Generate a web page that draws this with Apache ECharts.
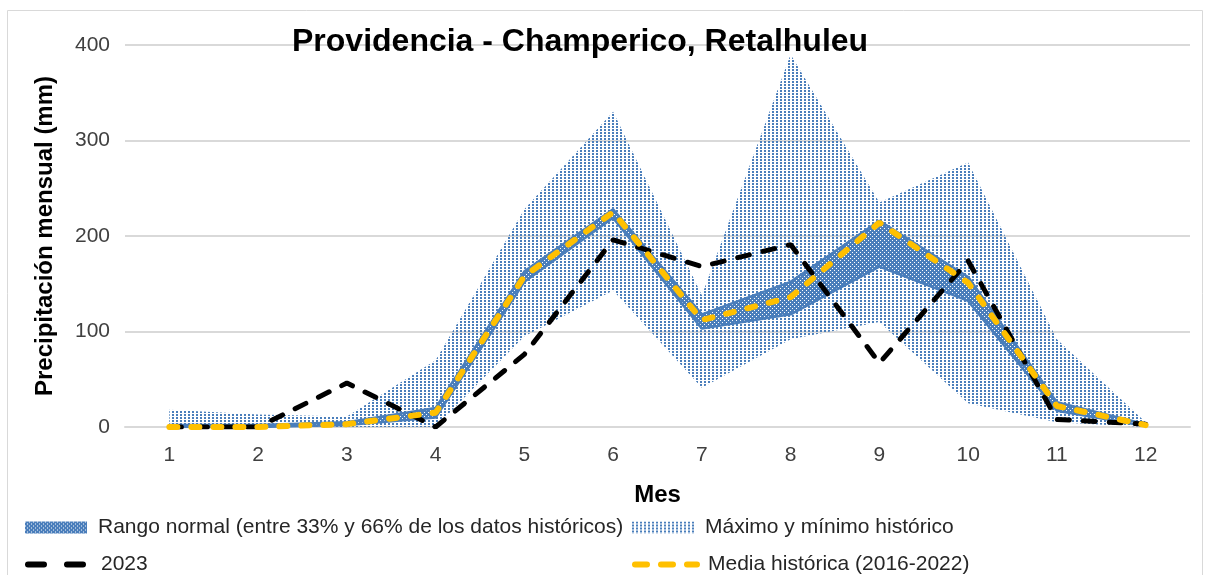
<!DOCTYPE html>
<html>
<head>
<meta charset="utf-8">
<script src="https://cdn.jsdelivr.net/npm/echarts@6/dist/echarts.min.js"></script>
<style>
  html, body { margin: 0; padding: 0; background: #fff; }
  #main { width: 1208px; height: 575px; }
</style>
</head>
<body>
<div id="main"></div>
<script>
// datos
const meses = ['1', '2', '3', '4', '5', '6', '7', '8', '9', '10', '11', '12']
const maxHist = [18, 13, 11, 70, 228, 330, 138, 390, 235, 277, 92, 5]
const minHist = [0, 0, 0, 0, 95, 143, 41, 92, 110, 25, 5, 0]
const normLow = [0, 0, 2, 10, 152, 219, 103, 118, 168, 132, 17, 1]
const normHigh = [2, 2, 5, 20, 163, 228, 118, 152, 216, 157, 26, 3]
const media = [0, 0, 3, 15, 158, 225, 112, 136, 214, 151, 22, 2]
const y2023 = [0, 0, 46, 0, 76, 196, 168, 191, 67, 174, 8, 3]

const AZUL = '#4a7ebb'
const FONT = 'Liberation Sans'

// patron punteado (como el relleno de trama de Excel)
function patron(fondo, punto, pw, ph, w, h, dobles) {
  const c = document.createElement('canvas')
  c.width = pw
  c.height = ph
  const ctx = c.getContext('2d')
  if (fondo) {
    ctx.fillStyle = fondo
    ctx.fillRect(0, 0, pw, ph)
  }
  ctx.fillStyle = punto
  ctx.fillRect(0, 0, w, h)
  if (dobles) ctx.fillRect(pw / 2, ph / 2, w, h)
  return { image: c, repeat: 'repeat' }
}
const patClaro = patron(null, AZUL, 4, 3, 2, 2, false)
const patOscuro = patron(AZUL, '#ffffff', 4, 4, 1, 1, true)

const rangoDif = normHigh.map((v, i) => v - normLow[i])
const extDif = maxHist.map((v, i) => v - minHist[i])

const N_RANGO = 'Rango normal (entre 33% y 66% de los datos históricos)'
const N_EXT = 'Máximo y mínimo histórico'
const N_2023 = '2023'
const N_MEDIA = 'Media histórica (2016-2022)'

function leyenda(left, top, item, lineStyle) {
  const l = {
    left: left, top: top, padding: 0,
    itemWidth: 62, itemHeight: 12,
    textStyle: { fontSize: 21, color: '#262626', fontFamily: FONT, padding: [0, 0, 0, 6] },
    data: [item]
  }
  if (lineStyle) l.lineStyle = lineStyle
  return l
}

const chart = echarts.init(document.getElementById('main'))
chart.setOption({
  animation: false,
  textStyle: { fontFamily: FONT },
  title: {
    text: 'Providencia - Champerico, Retalhuleu',
    left: 292,
    top: 26,
    padding: 0,
    textStyle: { fontSize: 32, fontWeight: 'bold', color: '#000', fontFamily: FONT }
  },
  graphic: [{
    type: 'rect',
    silent: true,
    shape: { x: 7.5, y: 10.5, width: 1195, height: 620 },
    style: { fill: 'none', stroke: '#d9d9d9', lineWidth: 1 }
  }],
  grid: { left: 125, right: 18, top: 45, bottom: 148 },
  legend: [
    leyenda(25, 517, { name: N_RANGO, icon: 'rect', itemStyle: { color: patOscuro } }),
    leyenda(25, 554, { name: N_2023, itemStyle: { opacity: 0 } },
      { color: '#000', width: 6, type: [16, 23], cap: 'round' }),
    leyenda(632, 517, { name: N_EXT, icon: 'rect', itemStyle: { color: patClaro } }),
    leyenda(632, 554, { name: N_MEDIA, itemStyle: { opacity: 0 } },
      { color: '#ffc000', width: 6, type: [12, 14], cap: 'round' })
  ],
  xAxis: {
    type: 'category',
    data: meses,
    name: 'Mes',
    nameLocation: 'middle',
    nameGap: 56,
    nameTextStyle: { fontSize: 24, fontWeight: 'bold', color: '#000' },
    axisLine: { lineStyle: { color: '#d9d9d9', width: 2 } },
    axisTick: { show: false },
    axisLabel: { fontSize: 21, color: '#404040', margin: 18 }
  },
  yAxis: {
    type: 'value',
    min: 0, max: 400, interval: 100,
    name: 'Precipitación mensual (mm)',
    nameLocation: 'middle',
    nameGap: 68,
    nameTextStyle: { fontSize: 24, fontWeight: 'bold', color: '#000' },
    axisLine: { show: false },
    axisTick: { show: false },
    axisLabel: { fontSize: 21, color: '#404040', margin: 15 },
    splitLine: { lineStyle: { color: '#d9d9d9', width: 2 } }
  },
  series: [
    // banda maximo / minimo historico
    {
      name: '_min', type: 'line', stack: 'ext', data: minHist,
      symbol: 'none', lineStyle: { width: 0 }, silent: true
    },
    {
      name: N_EXT, type: 'line', stack: 'ext', data: extDif,
      symbol: 'none', lineStyle: { width: 0 },
      itemStyle: { color: patClaro },
      areaStyle: { color: patClaro, opacity: 1 }
    },
    // rango normal
    {
      name: '_low', type: 'line', stack: 'rango', data: normLow,
      symbol: 'none', lineStyle: { color: AZUL, width: 2.5 }, silent: true
    },
    {
      name: N_RANGO, type: 'line', stack: 'rango', data: rangoDif,
      symbol: 'none', lineStyle: { color: AZUL, width: 2.5 },
      itemStyle: { color: patOscuro },
      areaStyle: { color: patOscuro, opacity: 1 }
    },
    {
      name: N_2023, type: 'line', data: y2023,
      symbol: 'none',
      itemStyle: { color: '#000' },
      lineStyle: { color: '#000', width: 5, type: [12, 14], cap: 'round' }
    },
    {
      name: N_MEDIA, type: 'line', data: media,
      symbol: 'none',
      itemStyle: { color: '#ffc000' },
      lineStyle: { color: '#ffc000', width: 6, type: [8, 14], cap: 'round' }
    }
  ]
})
</script>
</body>
</html>
